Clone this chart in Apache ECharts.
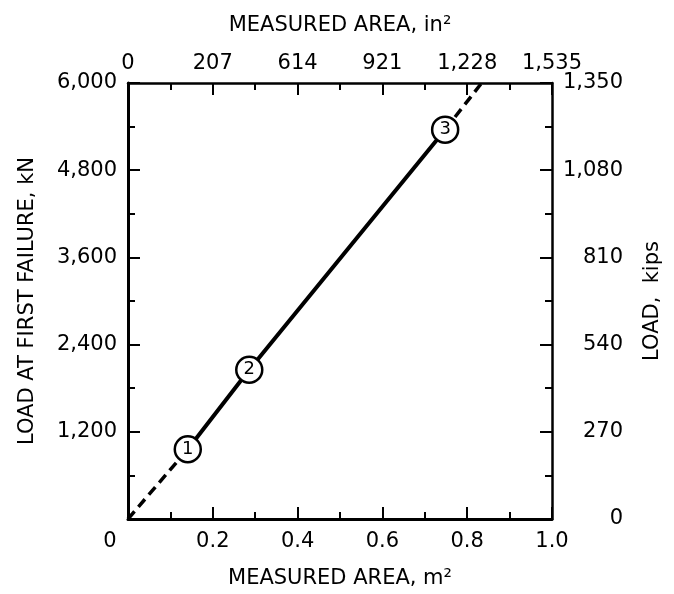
<!DOCTYPE html>
<html>
<head>
<meta charset="utf-8">
<title>Load at first failure vs measured area</title>
<script src="https://cdn.jsdelivr.net/npm/echarts@6.0.0/dist/echarts.min.js"></script>
<style>
  html, body { margin: 0; padding: 0; background: #fff; }
  #chart { width: 674px; height: 594px; }
</style>
</head>
<body>
<div id="chart"></div>
<script>
// test points
var testIds = ['1', '2', '3']
var testArea = [0.141, 0.286, 0.748]   // m2
var testLoad = [960, 2054, 5358]       // kN
// dashed extension of the line, below point 1 and above point 3
var lowArea = [0, 0.141]
var lowLoad = [0, 960]
var highArea = [0.748, 0.834]
var highLoad = [5358, 6000]
// in2 scale on top, as printed (the "207" too)
var topLabels = ['0', '207', '614', '921', '1,228', '1,535']

var FONT = 'DejaVu Sans'
var INK = '#000'

function zip(a, b) {
    return a.map(function (v, i) { return [v, b[i]] })
}
function comma(v) {
    return v.toLocaleString('en-US')
}

// shared look of the four frame axes
function frameAxis(width) {
    return {
        axisLine: { show: true, onZero: false, lineStyle: { color: INK, width: width } },
        axisTick: { show: true, inside: true, length: 12, lineStyle: { color: INK, width: 2 } },
        minorTick: { show: true, splitNumber: 2, length: 7, lineStyle: { color: INK, width: 2 } },
        splitLine: { show: false },
        nameTextStyle: { fontFamily: FONT, fontSize: 21, color: INK },
        axisLabel: { fontFamily: FONT, fontSize: 21, color: INK }
    }
}

function axis(width, opts) {
    var a = frameAxis(width)
    for (var k in opts) {
        if (typeof opts[k] === 'object' && a[k]) {
            for (var j in opts[k]) a[k][j] = opts[k][j]
        } else {
            a[k] = opts[k]
        }
    }
    return a
}

var chart = echarts.init(document.getElementById('chart'))

var option = {
    animation: false,
    backgroundColor: '#fff',
    grid: { left: 128, right: 122, top: 83, bottom: 72 },
    xAxis: [
        axis(3, {
            type: 'value', position: 'bottom', min: 0, max: 1, interval: 0.2,
            name: 'MEASURED AREA, m²', nameLocation: 'middle', nameGap: 49,
            axisLabel: {
                margin: 12,
                formatter: function (v) { return v === 0 ? '{z|0}' : v.toFixed(1) },
                rich: { z: { fontFamily: FONT, fontSize: 21, color: INK, padding: [0, 36, 0, 0] } }
            }
        }),
        axis(2.5, {
            type: 'value', position: 'top', min: 0, max: 1, interval: 0.2,
            name: 'MEASURED AREA, in²', nameLocation: 'middle', nameGap: 47,
            axisLabel: {
                margin: 9,
                formatter: function (v, i) { return topLabels[i] }
            }
        })
    ],
    yAxis: [
        axis(3, {
            type: 'value', position: 'left', min: 0, max: 6000, interval: 1200,
            name: 'LOAD AT FIRST FAILURE, kN', nameLocation: 'middle', nameRotate: 90, nameGap: 90,
            axisLabel: {
                margin: 11,
                formatter: function (v) { return v === 0 ? '' : comma(v) }
            }
        }),
        axis(2.5, {
            type: 'value', position: 'right', min: 0, max: 1350, interval: 270,
            name: 'LOAD,  kips', nameLocation: 'middle', nameRotate: 90, nameGap: 90,
            axisLabel: {
                margin: 71, align: 'right',
                formatter: function (v) { return comma(v) }
            }
        })
    ],
    series: [
        {
            type: 'line', z: 2, xAxisIndex: 0, yAxisIndex: 0,
            data: zip(lowArea, lowLoad), symbol: 'none',
            lineStyle: { color: '#000', width: 3.5, type: [10, 6] }
        },
        {
            type: 'line', z: 2, xAxisIndex: 0, yAxisIndex: 0,
            data: zip(highArea, highLoad), symbol: 'none',
            lineStyle: { color: '#000', width: 3.5, type: [10, 6] }
        },
        {
            type: 'line', z: 3, xAxisIndex: 0, yAxisIndex: 0,
            data: zip(testArea, testLoad),
            symbol: 'circle', symbolSize: 26, showAllSymbol: true,
            lineStyle: { color: '#000', width: 4 },
            itemStyle: { color: '#fff', borderColor: '#000', borderWidth: 2.5 },
            label: {
                show: true, position: 'inside',
                fontFamily: FONT, fontSize: 18, color: '#000',
                formatter: function (p) { return testIds[p.dataIndex] }
            }
        }
    ]
}

chart.setOption(option)
</script>
</body>
</html>
